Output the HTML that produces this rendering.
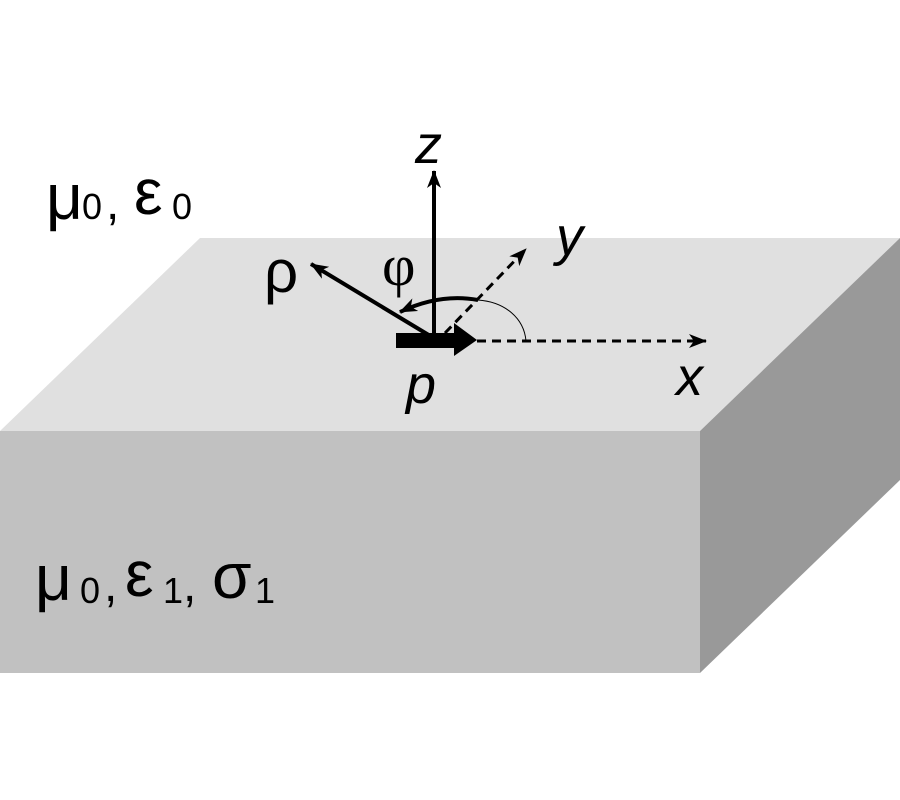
<!DOCTYPE html>
<html><head><style>html,body{margin:0;padding:0;background:#fff}svg{display:block}</style></head>
<body>
<svg width="900" height="800" viewBox="0 0 900 800" xmlns="http://www.w3.org/2000/svg">
<defs>
<marker id="ah2" markerWidth="18" markerHeight="14" refX="17" refY="7" orient="auto" markerUnits="userSpaceOnUse">
<path d="M0,0 L18,7 L0,14 L5,7 Z" fill="#000"/>
</marker>
</defs>
<polygon points="0,431 200,238 900,238 700,431" fill="#e0e0e0"/>
<polygon points="0,431 700,431 700,673 0,673" fill="#c1c1c1"/>
<polygon points="700,431 900,238 900,480 700,673" fill="#999999"/>

<path d="M478,300 C505,302 524,318 526,341" fill="none" stroke="#000" stroke-width="1"/>
<path d="M478,300 Q440,293 400,312" fill="none" stroke="#000" stroke-width="4" marker-end="url(#ah2)"/>
<line x1="477" y1="341" x2="706" y2="341" stroke="#000" stroke-width="3" stroke-dasharray="9,6" marker-end="url(#ah2)"/>
<line x1="445" y1="333" x2="526" y2="249" stroke="#000" stroke-width="3" stroke-dasharray="9,6" marker-end="url(#ah2)"/>
<line x1="432" y1="337" x2="311" y2="264" stroke="#000" stroke-width="4" marker-end="url(#ah2)"/>
<line x1="434" y1="336" x2="434" y2="171" stroke="#000" stroke-width="4" marker-end="url(#ah2)"/>
<rect x="396" y="333" width="60" height="15" fill="#000"/>
<polygon points="454,323 477,340 454,356" fill="#000"/>

<g font-family="Liberation Sans, sans-serif" fill="#000">
<text x="415" y="163" font-size="54" font-style="italic">z</text>
<text x="556" y="255" font-size="54" font-style="italic">y</text>
<text x="676" y="395" font-size="54" font-style="italic">x</text>
<text x="406" y="403" font-size="54" font-style="italic">p</text>
<text x="382" y="285" font-size="58" font-family="Liberation Serif, serif">φ</text>
<text x="264" y="292" font-size="60">ρ</text>

<text x="46" y="219" font-size="64">μ</text>
<text x="82" y="219" font-size="36">0</text>
<text x="106" y="219" font-size="48">,</text>
<text x="134" y="214" font-size="64">ε</text>
<text x="172" y="219" font-size="36">0</text>

<text x="35" y="600" font-size="64">μ</text>
<text x="80" y="603" font-size="36">0</text>
<text x="104" y="601" font-size="48">,</text>
<text x="125" y="596" font-size="64">ε</text>
<text x="163" y="603" font-size="36">1</text>
<text x="183" y="601" font-size="48">,</text>
<text x="212" y="598" font-size="64">σ</text>
<text x="255" y="603" font-size="36">1</text>
</g>
</svg>
</body></html>
